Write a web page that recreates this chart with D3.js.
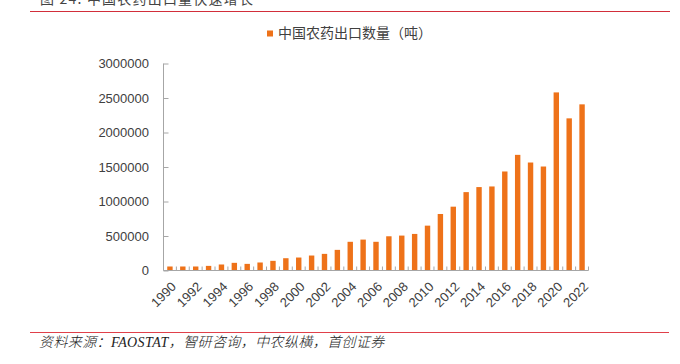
<!DOCTYPE html>
<html>
<head>
<meta charset="utf-8">
<script src="https://cdn.jsdelivr.net/npm/d3@7"></script>
<style>
  body { margin: 0; background: #fff; }
  svg { display: block; }
</style>
</head>
<body>
<div id="chart"></div>
<script>
// data
var years = ["1990","1991","1992","1993","1994","1995","1996","1997","1998","1999",
             "2000","2001","2002","2003","2004","2005","2006","2007","2008","2009",
             "2010","2011","2012","2013","2014","2015","2016","2017","2018","2019",
             "2020","2021","2022"];
var exportTons = [58000, 58000, 58000, 67000, 87000, 111000, 96000, 116000, 140000, 178000,
                  188000, 217000, 241000, 299000, 416000, 448000, 416000, 496000, 506000, 530000,
                  650000, 819000, 925000, 1136000, 1209000, 1218000, 1435000, 1676000, 1565000, 1507000,
                  2581000, 2205000, 2408000];
var yTicks = [0, 500000, 1000000, 1500000, 2000000, 2500000, 3000000];
var seriesName = "中国农药出口数量（吨）";
var titleText = "图 24:  中国农药出口量快速增长";
var sourceText = "资料来源：FAOSTAT，智研咨询，中农纵横，首创证券";

var W = 680, H = 364;
var barColor = "#ee7219";
var axisColor = "#a6a6a6";
var textColor = "#404040";

var svg = d3.select("#chart")
  .append("svg")
    .attr("width", W)
    .attr("height", H);

// header title (cut off at the top) and red rule
svg.append("text")
  .attr("x", 40)
  .attr("y", 4)
  .style("font-family", "'Noto Sans CJK SC', sans-serif")
  .style("font-size", "14px")
  .style("letter-spacing", "1.2px")
  .style("fill", "#444")
  .text(titleText);

svg.append("line")
  .attr("x1", 30).attr("x2", 670)
  .attr("y1", 11.5).attr("y2", 11.5)
  .style("stroke", "#d22e3a")
  .style("stroke-width", 1.2);

// plot area (avoid the name "top", it is window.top)
var plotLeft = 163.5, plotRight = 588.5, plotTop = 63.5, plotBottom = 270.5;

var x = d3.scaleBand()
  .domain(years)
  .range([plotLeft, plotRight])
  .paddingInner(0.58)
  .paddingOuter(0.29);

var y = d3.scaleLinear()
  .domain([0, 3000000])
  .range([plotBottom, plotTop]);

// bars
svg.append("g")
  .selectAll("rect")
  .data(exportTons)
  .enter()
  .append("rect")
    .attr("x", function(d, i) { return x(years[i]); })
    .attr("y", function(d) { return y(d); })
    .attr("width", x.bandwidth())
    .attr("height", function(d) { return plotBottom - y(d); })
    .style("fill", barColor);

// Y axis (inside ticks)
var yAxis = svg.append("g")
  .attr("transform", "translate(" + plotLeft + ",0)")
  .call(d3.axisRight(y).tickValues(yTicks).tickSize(5).tickFormat(""));
yAxis.select(".domain").attr("d", "M0," + plotTop + "V" + plotBottom);
yAxis.selectAll("line").style("stroke", axisColor);
yAxis.select(".domain").style("stroke", axisColor);

svg.append("g")
  .selectAll("text")
  .data(yTicks)
  .enter()
  .append("text")
    .attr("x", 149)
    .attr("y", function(d) { return y(d); })
    .attr("dy", "0.36em")
    .attr("text-anchor", "end")
    .style("font-family", "'Liberation Sans', Arial, sans-serif")
    .style("font-size", "13px")
    .style("fill", textColor)
    .text(function(d) { return d; });

// X axis: ticks at band boundaries, pointing up
var step = x.step();
var xAxis = svg.append("g");
xAxis.append("line")
  .attr("x1", plotLeft).attr("x2", plotRight)
  .attr("y1", plotBottom).attr("y2", plotBottom)
  .style("stroke", axisColor);
xAxis.selectAll("tick")
  .data(d3.range(years.length + 1))
  .enter()
  .append("line")
    .attr("x1", function(i) { return plotLeft + i * step; })
    .attr("x2", function(i) { return plotLeft + i * step; })
    .attr("y1", plotBottom)
    .attr("y2", plotBottom - 4)
    .style("stroke", axisColor);

svg.append("g")
  .selectAll("text")
  .data(years.filter(function(d, i) { return i % 2 === 0; }))
  .enter()
  .append("text")
    .attr("transform", function(d) {
      return "translate(" + (x(d) + x.bandwidth() / 2 + 7) + "," + (plotBottom + 17) + ") rotate(-45)";
    })
    .attr("text-anchor", "end")
    .style("font-family", "'Liberation Sans', Arial, sans-serif")
    .style("font-size", "13px")
    .style("fill", textColor)
    .text(function(d) { return d; });

// legend
svg.append("rect")
  .attr("x", 267).attr("y", 30.5)
  .attr("width", 6).attr("height", 6)
  .style("fill", barColor);
svg.append("text")
  .attr("x", 278)
  .attr("y", 33.5)
  .attr("dy", "0.35em")
  .style("font-family", "'Noto Sans CJK SC', sans-serif")
  .style("font-size", "14px")
  .style("fill", textColor)
  .text(seriesName);

// footer rule and source
svg.append("line")
  .attr("x1", 30).attr("x2", 669)
  .attr("y1", 332.5).attr("y2", 332.5)
  .style("stroke", "#e0404a")
  .style("stroke-width", 1.2);

svg.append("text")
  .attr("x", 39)
  .attr("y", 347)
  .style("font-family", "'Liberation Serif', 'Noto Sans CJK SC', serif")
  .style("font-style", "italic")
  .style("font-size", "14px")
  .style("font-weight", "300")
  .style("letter-spacing", "0.4px")
  .style("fill", "#222")
  .text(sourceText);
</script>
</body>
</html>
